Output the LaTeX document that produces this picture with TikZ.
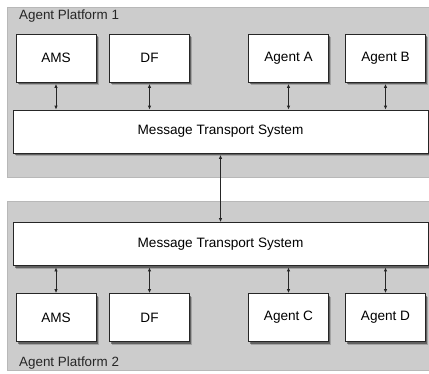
\documentclass[tikz,border=0pt]{standalone}
\usepackage{fontspec}
\setmainfont{Liberation Sans}
\usetikzlibrary{arrows.meta,shadows}
\begin{document}
\begin{tikzpicture}[x=1pt,y=-1pt,
  platform/.style={draw=black!28,fill=black!20,line width=0.6pt},
  box/.style={draw=black!85,fill=white,line width=0.8pt,
    drop shadow={shadow xshift=2.5pt,shadow yshift=-3pt,opacity=0.2,fill=black},
    drop shadow={shadow xshift=1.5pt,shadow yshift=-2pt,opacity=0.4,fill=black},
    font=\fontsize{13.6}{16}\selectfont,inner sep=0pt},
  unit/.style={box,minimum width=80pt,minimum height=48pt},
  mtsbox/.style={box,minimum width=415pt,minimum height=43pt},
  plabel/.style={font=\fontsize{13.4}{15}\selectfont,anchor=west,inner sep=0pt,text=black!85},
  link/.style={draw=black!85,line width=0.8pt,{Latex[length=4pt,width=3.5pt]}-{Latex[length=4pt,width=3.5pt]}}]
\useasboundingbox (0,0) rectangle (429,373);
% platforms
\path[platform] (7,7) rectangle (429.5,177);
\path[platform] (7,201) rectangle (429.5,370);
\node[plabel] (pl1) at (19,16) {Agent Platform 1};
\node[plabel] (pl2) at (19,363) {Agent Platform 2};
% platform 1
\node[unit] (ams1) at (56,58) {AMS};
\node[unit] (df1) at (149.5,58) {DF};
\node[unit] (aa) at (288.5,58) {Agent A};
\node[unit] (ab) at (385.5,58) {Agent B};
\node[mtsbox] (mts1) at (220.5,131.5) {Message Transport System};
% platform 2
\node[mtsbox] (mts2) at (220.5,244) {Message Transport System};
\node[unit] (ams2) at (56,317.5) {AMS};
\node[unit] (df2) at (149.5,317.5) {DF};
\node[unit] (ac) at (288.5,317.5) {Agent C};
\node[unit] (ad) at (385.5,317.5) {Agent D};
% links
\foreach \n in {ams1,df1,aa,ab}
  \draw[link] ([yshift=-1.5pt]\n.south) -- (\n.south |- mts1.north);
\foreach \n in {ams2,df2,ac,ad}
  \draw[link] ([yshift=-1.5pt]mts2.south -| \n.north) -- (\n.north);
\draw[link] ([yshift=-1.5pt]mts1.south) -- (mts2.north);
\end{tikzpicture}
\end{document}
